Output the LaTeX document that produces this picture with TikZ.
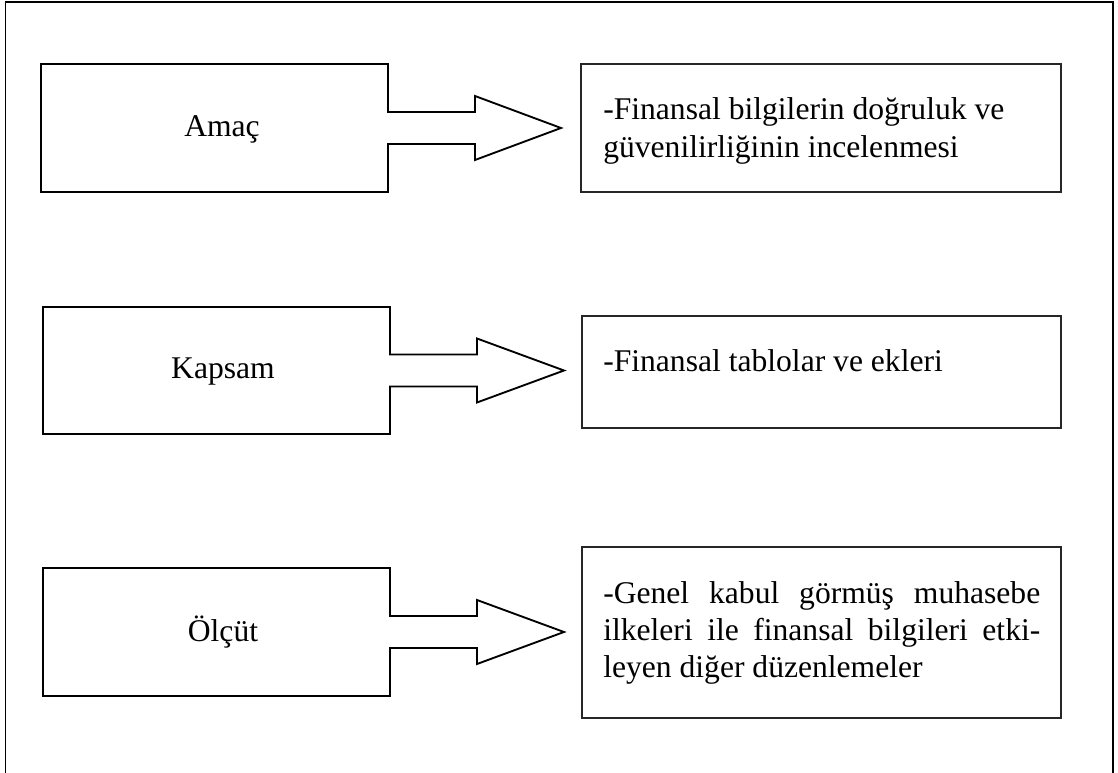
\documentclass[tikz,border=0pt]{standalone}
\usepackage{fontspec}
\setmainfont{Liberation Serif}
\usetikzlibrary{calc,fit}

% Left box merged with a block arrow that points at the matching info box
\newcommand{\arrowbox}[2]{%
  \draw[outline] (#1.north west) -- (#1.north east)
    -- ($(#1.east)+(0,-16)$) -- ($(#1.east)+(87,-16)$)
    -- ($(#1.east)+(87,-32)$) -- (#2)
    -- ($(#1.east)+(87,32)$) -- ($(#1.east)+(87,16)$)
    -- ($(#1.east)+(0,16)$) -- (#1.south east)
    -- (#1.south west) -- cycle;}

\begin{document}
\begin{tikzpicture}[x=0.75pt,y=-0.75pt,
  outline/.style={draw=black,line width=1.4pt,line join=miter},
  blank/.style={inner sep=0pt,outer sep=0pt},
  infobox/.style={draw=black!85,line width=1.4pt,inner sep=0pt,outer sep=0pt},
  caption/.style={anchor=base,inner sep=0pt,font=\fontsize{23.7}{28}\selectfont},
  body/.style={anchor=base west,inner sep=0pt,font=\fontsize{23.7}{28.5}\selectfont},
  tightbody/.style={anchor=base west,inner sep=0pt,font=\fontsize{23.7}{27.5}\selectfont}]
\useasboundingbox (0,0) rectangle (1118,773);
\clip (0,0) rectangle (1118,773);

% outer frame (runs past the lower edge)
\draw[line width=1.4pt] (5.5,2) rectangle (1113,820);

% ---- row 1: Amaç ----
\node[blank, fit={(41,64) (388,192)}] (amac) {};
\coordinate (amacTip) at ($(amac.east)+(173,0)$);
\arrowbox{amac}{amacTip}
\node[caption] (amacLbl) at (222,137) {Amaç};
\node[infobox, fit={(581,64) (1061,192)}] (amacInfo) {};
\node[body] (amacTxt) at (603,120) {\parbox[t]{340pt}{%
  -Finansal bilgilerin doğruluk ve\\
  güvenilirliğinin incelenmesi}};

% ---- row 2: Kapsam ----
\node[blank, fit={(43,307) (390,434)}] (kapsam) {};
\coordinate (kapsamTip) at ($(kapsam.east)+(174,0)$);
\arrowbox{kapsam}{kapsamTip}
\node[caption] (kapsamLbl) at (223,379) {Kapsam};
\node[infobox, fit={(582,316) (1061,428)}] (kapsamInfo) {};
\node[body] (kapsamTxt) at (603,372) {-Finansal tablolar ve ekleri};

% ---- row 3: Ölçüt ----
\node[blank, fit={(43,568) (390,696)}] (olcut) {};
\coordinate (olcutTip) at ($(olcut.east)+(174,0)$);
\arrowbox{olcut}{olcutTip}
\node[caption] (olcutLbl) at (223,641) {Ölçüt};
\node[infobox, fit={(582,547) (1061,718)}] (olcutInfo) {};
\node[tightbody] (olcutTxt) at (603,604) {\parbox[t]{327.75pt}{%
  \makebox[327.75pt][s]{-Genel kabul görmüş muhasebe}\\
  \makebox[327.75pt][s]{ilkeleri ile finansal bilgileri etki-}\\
  leyen diğer düzenlemeler}};
\end{tikzpicture}
\end{document}
